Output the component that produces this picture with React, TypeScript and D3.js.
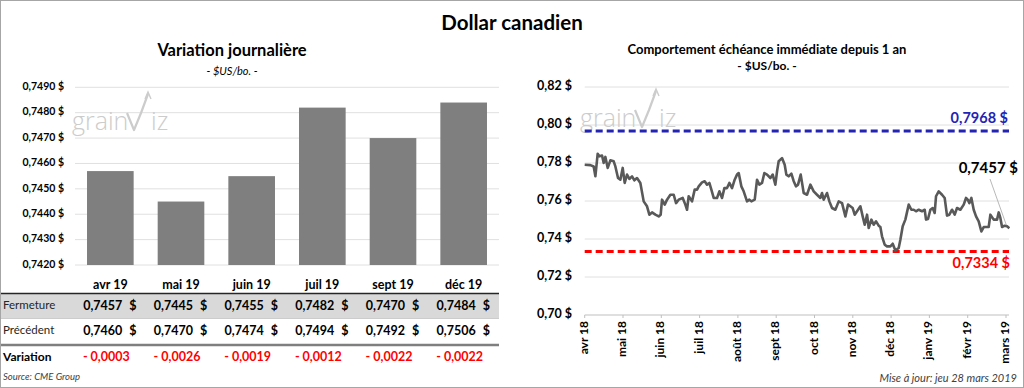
import React from "react";
import * as d3 from "d3";

// contrats (graphique de gauche)
const contracts = ["avr 19", "mai 19", "juin 19", "juil 19", "sept 19", "déc 19"];
const fermeture = [0.7457, 0.7445, 0.7455, 0.7482, 0.747, 0.7484];
const precedent = [0.746, 0.747, 0.7474, 0.7494, 0.7492, 0.7506];
const variation = [-0.0003, -0.0026, -0.0019, -0.0012, -0.0022, -0.0022];
const barTicks = [0.742, 0.743, 0.744, 0.745, 0.746, 0.747, 0.748, 0.749];

// échéance immédiate (graphique de droite)
const months = ["avr 18", "mai 18", "juin 18", "juil 18", "août 18", "sept 18", "oct 18", "nov 18", "déc 18", "janv 19", "févr 19", "mars 19"];
const lineTicks = [0.7, 0.72, 0.74, 0.76, 0.78, 0.8, 0.82];
// temps en mois depuis avr 18
const histT = [
  0, 0.148, 0.235, 0.279, 0.339, 0.383, 0.453, 0.496, 0.54, 0.601, 0.67, 0.757, 0.801, 0.87, 0.931, 0.992,
  1.044, 1.105, 1.166, 1.236, 1.297, 1.366, 1.453, 1.54, 1.627, 1.688, 1.758, 1.845, 1.932, 1.984,
  2.019, 2.089, 2.15, 2.237, 2.324, 2.385, 2.454, 2.559, 2.628, 2.672, 2.715, 2.802, 2.872, 2.933, 2.977,
  3.064, 3.133, 3.194, 3.255, 3.307, 3.368, 3.455, 3.516, 3.586, 3.647, 3.716, 3.777, 3.847, 3.916, 3.977,
  4.021, 4.09, 4.151, 4.238, 4.299, 4.352, 4.439, 4.5, 4.56, 4.63, 4.691, 4.761, 4.848, 4.909, 4.978,
  5.022, 5.065, 5.152, 5.222, 5.265, 5.326, 5.396, 5.457, 5.518, 5.57, 5.64, 5.718, 5.805, 5.892, 5.979,
  6.066, 6.153, 6.197, 6.24, 6.327, 6.388, 6.458, 6.545, 6.632, 6.719, 6.806, 6.876, 6.936, 6.997,
  7.05, 7.111, 7.198, 7.258, 7.311, 7.372, 7.415, 7.485, 7.546, 7.607, 7.676, 7.72, 7.763, 7.833, 7.894, 7.981,
  8.042, 8.111, 8.198, 8.242, 8.303, 8.372, 8.46, 8.529, 8.59, 8.651, 8.721, 8.808, 8.877, 8.912, 8.964,
  9.025, 9.086, 9.138, 9.173, 9.243, 9.33, 9.399, 9.46, 9.521, 9.591, 9.661, 9.721, 9.809, 9.896, 9.956,
  10.0, 10.044, 10.096, 10.157, 10.218, 10.287, 10.357, 10.418, 10.479, 10.548, 10.592, 10.679, 10.766, 10.81, 10.853, 10.897, 10.966,
  11.027, 11.088,
];
const histV = [
  0.7791, 0.7789, 0.7782, 0.773, 0.7849, 0.7835, 0.7839, 0.78, 0.7832, 0.7774, 0.7814, 0.7809, 0.7782, 0.7721, 0.7712, 0.7774,
  0.7695, 0.7739, 0.7716, 0.773, 0.7709, 0.7721, 0.7695, 0.7598, 0.7572, 0.7528, 0.754, 0.7528, 0.7519, 0.7528,
  0.7607, 0.7581, 0.7607, 0.7633, 0.7633, 0.7589, 0.7607, 0.7616, 0.7581, 0.7554, 0.7625, 0.7598, 0.766, 0.766, 0.7677,
  0.7698, 0.7704, 0.7686, 0.7695, 0.766, 0.7616, 0.7616, 0.7651, 0.7616, 0.7668, 0.7668, 0.7695, 0.7668, 0.7712, 0.7739,
  0.7747, 0.7677, 0.7651, 0.7598, 0.7607, 0.7598, 0.7607, 0.7712, 0.7686, 0.7695, 0.7747, 0.7739, 0.7721, 0.7739, 0.7686,
  0.7756, 0.7809, 0.7826, 0.7791, 0.7739, 0.773, 0.7744, 0.7704, 0.7677, 0.7686, 0.7739, 0.7642, 0.7633, 0.7686, 0.7651,
  0.7633, 0.7616, 0.7642, 0.7607, 0.7642, 0.7598, 0.7563, 0.7554, 0.7598, 0.7589, 0.7519, 0.7581, 0.7572, 0.7563,
  0.7528, 0.7546, 0.7572, 0.7519, 0.7475, 0.7528, 0.7458, 0.7502, 0.7475, 0.7493, 0.747, 0.7463, 0.7414, 0.737, 0.7361, 0.7361,
  0.7375, 0.7339, 0.7353, 0.7396, 0.7467, 0.7502, 0.7581, 0.7554, 0.7554, 0.7546, 0.7554, 0.7546, 0.7554, 0.7502, 0.7505,
  0.7554, 0.7563, 0.7537, 0.7625, 0.7651, 0.7633, 0.7616, 0.7523, 0.7528, 0.7554, 0.7528, 0.7563, 0.7554, 0.7581, 0.7616,
  0.7607, 0.7589, 0.7616, 0.7554, 0.7519, 0.7493, 0.744, 0.7463, 0.7463, 0.7463, 0.7528, 0.7502, 0.7502, 0.754, 0.7511, 0.7463, 0.747,
  0.7467, 0.7457,
];
const yearHigh = 0.7968;
const yearLow = 0.7334;
const lastClose = 0.7457;

const fr = d3.formatLocale({ decimal: ",", thousands: " ", grouping: [3], currency: ["", " $"] });
const f4 = fr.format(".4f");
const f2 = fr.format(".2f");

const FONT = "Lato, 'Open Sans', sans-serif";

function Watermark({ x, y }: { x: number; y: number }) {
  const c = "#cccccc";
  return (
    <g transform={`translate(${x},${y})`} fill={c}>
      <text x={0} y={0} fontSize={25} fontFamily="'Open Sans', sans-serif" fontWeight={300}>grain</text>
      <path d="M55,-17 L62,0 L69,-17 M69,-17 L76,-36" fill="none" stroke={c} strokeWidth={2.2} strokeLinejoin="round" />
      <path d="M73,-31 L76,-38 L79,-31" fill="none" stroke={c} strokeWidth={1.4} />
      <text x={79} y={0} fontSize={25} fontFamily="'Open Sans', sans-serif" fontWeight={300}>iz</text>
    </g>
  );
}

export default function App() {
  // ----- gauche
  const xb = d3.scaleBand<string>().domain(contracts).range([75, 499]).paddingInner(0.34).paddingOuter(0.17);
  const yb = d3.scaleLinear().domain([0.742, 0.749]).range([265, 87.3]);

  // ----- droite
  const xl = d3.scaleLinear().domain([0, 11]).range([584.7, 1006]);
  const yl = d3.scaleLinear().domain([0.7, 0.82]).range([315, 87]);
  const pts = histT.map((t, i) => [t, histV[i]] as [number, number]);
  const line = d3.line<[number, number]>().x((d) => xl(d[0])).y((d) => yl(d[1]));
  const last = pts[pts.length - 1];

  const rowY = { fer: 306.5, pre: 331.5, vari: 357.5 };

  return (
    <svg width={1024} height={388} style={{ position: "absolute", left: 0, top: 0, background: "#fff" }} fontFamily={FONT}>
      <rect x={0.5} y={0.5} width={1023} height={387} fill="#fff" stroke="#a6a6a6" />
      <text x={512} y={25} textAnchor="middle" dominantBaseline="middle" fontSize={20.5} fontWeight={700}>Dollar canadien</text>

      {/* ---------- Variation journalière ---------- */}
      <text x={232} y={51.5} textAnchor="middle" dominantBaseline="middle" fontSize={16.5} fontWeight={700}>Variation journalière</text>
      <text x={232} y={72} textAnchor="middle" dominantBaseline="middle" fontSize={11} fontStyle="italic">- $US/bo. -</text>
      {barTicks.map((t) => (
        <g key={t}>
          <line x1={75} x2={499} y1={yb(t)} y2={yb(t)} stroke="#e0e0e0" />
          <text x={64} y={yb(t)} textAnchor="end" dominantBaseline="middle" fontSize={10.5} fontWeight={700}>{f4(t)} $</text>
        </g>
      ))}
      <Watermark x={72} y={130} />
      {contracts.map((c, i) => (
        <rect key={c} x={xb(c)} width={xb.bandwidth()} y={yb(fermeture[i])} height={yb(0.742) - yb(fermeture[i])} fill="#7f7f7f" />
      ))}
      {contracts.map((c) => (
        <text key={c} x={xb(c)! + xb.bandwidth() / 2} y={286} textAnchor="middle" dominantBaseline="middle" fontSize={12.5} fontWeight={700}>{c}</text>
      ))}

      {/* tableau */}
      <rect x={1} y={294} width={498} height={24} fill="#d9d9d9" />
      <line x1={1} x2={499} y1={293.5} y2={293.5} stroke="#262626" strokeWidth={1.5} />
      <line x1={1} x2={499} y1={318.5} y2={318.5} stroke="#bfbfbf" strokeWidth={0.8} />
      <line x1={1} x2={499} y1={345} y2={345} stroke="#7f7f7f" strokeWidth={2.5} />
      <text x={3} y={rowY.fer} dominantBaseline="middle" fontSize={11.5} fill="#262626">Fermeture</text>
      <text x={3} y={rowY.pre} dominantBaseline="middle" fontSize={11.5} fill="#262626">Précédent</text>
      <text x={3} y={rowY.vari} dominantBaseline="middle" fontSize={12} fontWeight={700}>Variation</text>
      {contracts.map((c, i) => {
        const cx = xb(c)! + xb.bandwidth() / 2;
        return (
          <g key={c} fontSize={12.5} fontWeight={700}>
            <text x={cx + 12} y={rowY.fer} textAnchor="end" dominantBaseline="middle">{f4(fermeture[i])}</text>
            <text x={cx + 19} y={rowY.fer} dominantBaseline="middle">$</text>
            <text x={cx + 12} y={rowY.pre} textAnchor="end" dominantBaseline="middle">{f4(precedent[i])}</text>
            <text x={cx + 19} y={rowY.pre} dominantBaseline="middle">$</text>
            <text x={cx - 4} y={rowY.vari} textAnchor="middle" dominantBaseline="middle" fill="#ff0000">
              {(variation[i] < 0 ? "- " : "+ ") + f4(Math.abs(variation[i]))}
            </text>
          </g>
        );
      })}
      <text x={3} y={378} dominantBaseline="middle" fontSize={9.5} fontStyle="italic" fill="#404040">Source: CME Group</text>

      {/* ---------- Comportement échéance immédiate ---------- */}
      <text x={767} y={51} textAnchor="middle" dominantBaseline="middle" fontSize={13} fontWeight={700}>Comportement échéance immédiate depuis 1 an</text>
      <text x={767} y={67} textAnchor="middle" dominantBaseline="middle" fontSize={12} fontWeight={700}>- $US/bo. -</text>
      {lineTicks.map((t) => (
        <g key={t}>
          {t > 0.7 && <line x1={584.7} x2={1009} y1={yl(t)} y2={yl(t)} stroke="#e0e0e0" />}
          <text x={572} y={yl(t)} textAnchor="end" dominantBaseline="middle" fontSize={12.5} fontWeight={700}>{f2(t)} $</text>
        </g>
      ))}
      <Watermark x={580} y={127} />
      <line x1={584.7} x2={1009} y1={yl(0.7)} y2={yl(0.7)} stroke="#bfbfbf" />
      {months.map((m, i) => (
        <g key={m}>
          <line x1={xl(i)} x2={xl(i)} y1={yl(0.7)} y2={yl(0.7) + 3} stroke="#bfbfbf" />
          <text transform={`translate(${xl(i)},${yl(0.7) + 6}) rotate(-90)`} textAnchor="end" dominantBaseline="middle" fontSize={12} fontWeight={700}>{m}</text>
        </g>
      ))}

      <line x1={584.7} x2={1009} y1={yl(yearHigh)} y2={yl(yearHigh)} stroke="#2323b5" strokeWidth={3} strokeDasharray="7,4" />
      <text x={1008} y={119} textAnchor="end" dominantBaseline="middle" fontSize={14.5} fontWeight={700} fill="#2323b5">{f4(yearHigh)} $</text>
      <line x1={584.7} x2={1009} y1={yl(yearLow)} y2={yl(yearLow)} stroke="#ff0000" strokeWidth={3} strokeDasharray="7,4" />
      <text x={1010} y={264} textAnchor="end" dominantBaseline="middle" fontSize={14.5} fontWeight={700} fill="#ff0000">{f4(yearLow)} $</text>

      <path d={line(pts) ?? ""} fill="none" stroke="#595959" strokeWidth={2.6} strokeLinejoin="round" />

      <line x1={990} y1={179} x2={xl(last[0]) - 3} y2={yl(last[1]) - 3} stroke="#a6a6a6" strokeWidth={0.8} />
      <text x={1018} y={169} textAnchor="end" dominantBaseline="middle" fontSize={15} fontWeight={700}>{f4(lastClose)} $</text>

      <text x={1017} y={379} textAnchor="end" dominantBaseline="middle" fontSize={11} fontStyle="italic" fill="#404040">Mise à jour: jeu 28 mars 2019</text>
    </svg>
  );
}
